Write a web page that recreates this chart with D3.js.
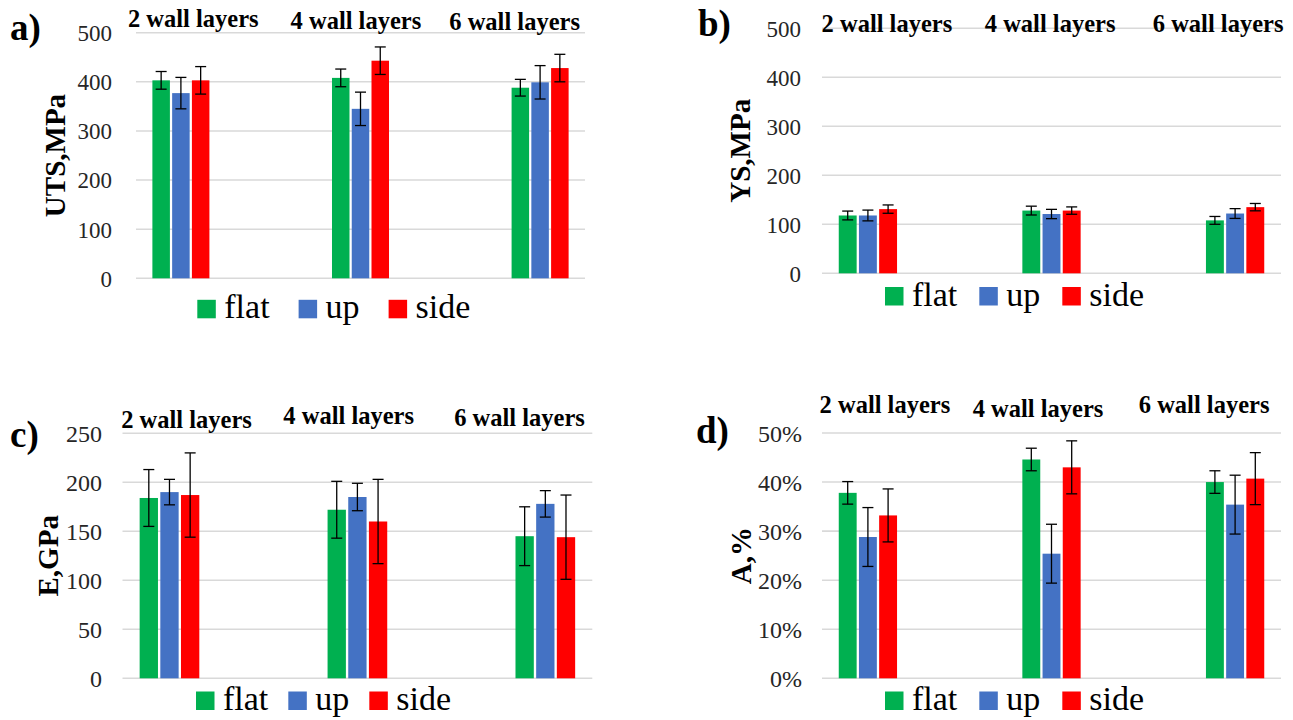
<!DOCTYPE html>
<html>
<head>
<meta charset="utf-8">
<script src="https://cdn.jsdelivr.net/npm/d3@7"></script>
</head>
<body style="margin:0;padding:0;background:#fff">
<svg id="chart" width="1293" height="720" style="display:block"></svg>
<script>
// ---------------- data ----------------
const categories = ["2 wall layers", "4 wall layers", "6 wall layers"];
const seriesNames = ["flat", "up", "side"];
const seriesColors = ["#00B050", "#4472C4", "#FF0000"];

// a) UTS, MPa
const utsFlat = [403, 408, 388];
const utsUp   = [377, 345, 399];
const utsSide = [403, 443, 428];
const utsFlatErr = [18, 18, 17];
const utsUpErr   = [32, 34, 34];
const utsSideErr = [28, 28, 28];
const utsTicks = [0, 100, 200, 300, 400, 500];

// b) YS, MPa
const ysFlat = [118, 128, 108];
const ysUp   = [118, 121, 122];
const ysSide = [131, 128, 135];
const ysFlatErr = [9, 9, 8];
const ysUpErr   = [11, 9.5, 10];
const ysSideErr = [8.5, 7.5, 7.5];
const ysTicks = [0, 100, 200, 300, 400, 500];

// c) E, GPa
const eFlat = [184, 172, 145];
const eUp   = [190, 185, 178];
const eSide = [187, 160, 144];
const eFlatErr = [29, 29, 30];
const eUpErr   = [13, 14, 13.5];
const eSideErr = [43, 43, 43];
const eTicks = [0, 50, 100, 150, 200, 250];

// d) A, %
const aFlat = [0.378, 0.446, 0.400];
const aUp   = [0.288, 0.254, 0.354];
const aSide = [0.332, 0.430, 0.407];
const aFlatErr = [0.023, 0.023, 0.023];
const aUpErr   = [0.060, 0.060, 0.060];
const aSideErr = [0.054, 0.054, 0.053];
const aTicks = [0, 0.1, 0.2, 0.3, 0.4, 0.5];

// ---------------- layout (positions / styles) ----------------
const FONT = "Liberation Serif";
const panels = [
  { letter: "a)", title: "UTS,MPa", values: [utsFlat, utsUp, utsSide], errors: [utsFlatErr, utsUpErr, utsSideErr],
    ticks: utsTicks, fmt: d3.format("d"),
    x0: 136, x1: 585, yTop: 32.7, yBottom: 278.3,
    letterX: 10, letterY: 40, titleX: 55, tickRight: 112, tickSize: 23,
    labelDx: [12.4, -4.6, -25.5], labelY: [27.3, 29.3, 30],
    legendX: 197.3, legendGap: 29, legendY: 318.3 },
  { letter: "b)", title: "YS,MPa", values: [ysFlat, ysUp, ysSide], errors: [ysFlatErr, ysUpErr, ysSideErr],
    ticks: ysTicks, fmt: d3.format("d"),
    x0: 822, x1: 1281, yTop: 28.3, yBottom: 273.3,
    letterX: 698, letterY: 36, titleX: 740, tickRight: 801, tickSize: 23,
    labelDx: [19, -1.4, -17], labelY: [31.7, 31.7, 31.7],
    legendX: 885, legendGap: 22, legendY: 305.5 },
  { letter: "c)", title: "E,GPa", values: [eFlat, eUp, eSide], errors: [eFlatErr, eUpErr, eSideErr],
    ticks: eTicks, fmt: d3.format("d"),
    x0: 122.5, x1: 592.3, yTop: 433.3, yBottom: 678.3,
    letterX: 10, letterY: 447, titleX: 47.5, tickRight: 102, tickSize: 24,
    labelDx: [17, -8.7, -25.8], labelY: [427.5, 424, 426],
    legendX: 196, legendGap: 20, legendY: 710 },
  { letter: "d)", title: "A,%", values: [aFlat, aUp, aSide], errors: [aFlatErr, aUpErr, aSideErr],
    ticks: aTicks, fmt: d3.format(".0%"),
    x0: 822, x1: 1281, yTop: 433, yBottom: 678.3,
    letterX: 696, letterY: 443, titleX: 741, tickRight: 802, tickSize: 24,
    labelDx: [17, -13.5, -31], labelY: [413, 417, 413],
    legendX: 885, legendGap: 22, legendY: 710 }
];

const svg = d3.select("#chart");

panels.forEach(p => {
  const g = svg.append("g");
  const yMax = p.ticks[p.ticks.length - 1];
  const y = d3.scaleLinear().domain([0, yMax]).range([p.yBottom, p.yTop]);
  // 5 slots: categories occupy every other slot
  const slot = d3.scaleBand().domain(d3.range(categories.length * 2 - 1)).range([p.x0, p.x1]);
  const cx = i => slot(i * 2) + slot.bandwidth() / 2;
  const pitch = slot.bandwidth() * 0.22;
  const barW = slot.bandwidth() * 0.195;
  const sx = d3.scalePoint().domain(seriesNames).range([-pitch, pitch]);

  // gridlines
  g.append("g").selectAll("line").data(p.ticks).join("line")
    .attr("x1", p.x0).attr("x2", p.x1)
    .attr("y1", d => y(d)).attr("y2", d => y(d))
    .attr("stroke", "#D9D9D9").attr("stroke-width", 1.6);

  // y tick labels
  const axis = d3.axisLeft(y).tickValues(p.ticks).tickFormat(p.fmt).tickSize(0).tickPadding(0);
  const ax = g.append("g").attr("transform", `translate(${p.tickRight},0)`).call(axis);
  ax.select(".domain").remove();
  ax.attr("font-family", FONT).attr("font-size", p.tickSize);
  ax.selectAll("text")
    .attr("font-family", FONT)
    .attr("font-size", p.tickSize)
    .attr("fill", "#262626")
    .attr("dy", "0.34em");

  // bars
  seriesNames.forEach((s, j) => {
    const vals = p.values[j];
    g.append("g").selectAll("rect").data(vals).join("rect")
      .attr("x", (d, i) => cx(i) + sx(s) - barW / 2)
      .attr("width", barW)
      .attr("y", d => y(d))
      .attr("height", d => y(0) - y(d))
      .attr("fill", seriesColors[j]);
  });

  // error bars
  const cap = 5.5;
  seriesNames.forEach((s, j) => {
    const vals = p.values[j], errs = p.errors[j];
    const eg = g.append("g").attr("stroke", "#000").attr("stroke-width", 1.3);
    vals.forEach((v, i) => {
      const x = cx(i) + sx(s);
      const yh = y(v + errs[i]), yl = y(v - errs[i]);
      eg.append("line").attr("x1", x).attr("x2", x).attr("y1", yh).attr("y2", yl);
      eg.append("line").attr("x1", x - cap).attr("x2", x + cap).attr("y1", yh).attr("y2", yh);
      eg.append("line").attr("x1", x - cap).attr("x2", x + cap).attr("y1", yl).attr("y2", yl);
    });
  });

  // category labels at top
  g.append("g").selectAll("text").data(categories).join("text")
    .attr("x", (d, i) => cx(i) + p.labelDx[i])
    .attr("y", (d, i) => p.labelY[i])
    .attr("text-anchor", "middle")
    .attr("font-family", FONT)
    .attr("font-weight", "bold")
    .attr("font-size", 24.5)
    .attr("fill", "#000")
    .text(d => d);

  // panel letter
  g.append("text")
    .attr("x", p.letterX).attr("y", p.letterY)
    .attr("font-family", FONT)
    .attr("font-weight", "bold").attr("font-size", 37)
    .attr("fill", "#000")
    .text(p.letter);

  // y title
  const midY = (p.yTop + p.yBottom) / 2;
  g.append("text")
    .attr("transform", `translate(${p.titleX},${midY}) rotate(-90)`)
    .attr("text-anchor", "middle")
    .attr("dy", "0.35em")
    .attr("font-family", FONT)
    .attr("font-weight", "bold").attr("font-size", 29)
    .attr("fill", "#000")
    .text(p.title);

  // legend
  const lg = g.append("g");
  let lx = p.legendX;
  const sq = 18.5;
  seriesNames.forEach((s, j) => {
    lg.append("rect")
      .attr("x", lx).attr("y", p.legendY - sq)
      .attr("width", sq).attr("height", sq)
      .attr("fill", seriesColors[j]);
    const t = lg.append("text")
      .attr("x", lx + 27).attr("y", p.legendY)
      .attr("font-family", FONT)
      .attr("font-size", 34).attr("fill", "#000")
      .text(s);
    const w = t.node().getComputedTextLength();
    lx = lx + 27 + w + p.legendGap;
  });
});
</script>
</body>
</html>
